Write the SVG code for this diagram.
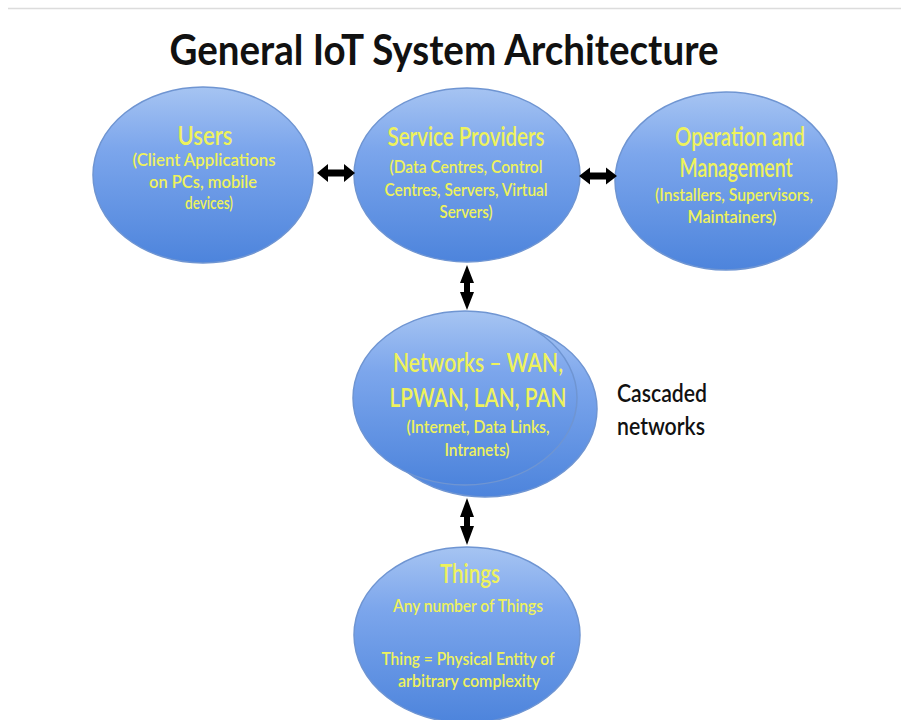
<svg xmlns="http://www.w3.org/2000/svg" width="901" height="720" viewBox="0 0 901 720">
<defs>
<linearGradient id="blue" x1="0" y1="0" x2="0" y2="1">
<stop offset="0" stop-color="#a6c4f2"/>
<stop offset="0.35" stop-color="#7ca6ec"/>
<stop offset="1" stop-color="#4d84dc"/>
</linearGradient>
<style>
.ell{fill:url(#blue);stroke:#6f95d2;stroke-width:1.5}
.hd{font-family:Lato,"Liberation Sans",sans-serif;font-size:27px;font-weight:600;fill:#eef25c;text-anchor:middle}
.sb{font-family:Lato,"Liberation Sans",sans-serif;font-size:18px;font-weight:600;fill:#eef25c;text-anchor:middle}
.blk{font-family:Lato,"Liberation Sans",sans-serif;font-size:25px;font-weight:600;fill:#111;}
.arr{fill:#000}
</style>
</defs>
<rect width="901" height="720" fill="#fff"/>
<line x1="8" y1="8.5" x2="901" y2="8.5" stroke="#dcdcdc" stroke-width="1.5"/>
<text x="444" y="65" font-family="Lato,'Liberation Sans',sans-serif" font-weight="bold" font-size="42" fill="#111" text-anchor="middle" textLength="549" lengthAdjust="spacingAndGlyphs">General IoT System Architecture</text>

<g id="users">
<ellipse class="ell" cx="203" cy="175" rx="110" ry="88"/>
<text class="hd" x="205" y="145" textLength="55" lengthAdjust="spacingAndGlyphs">Users</text>
<text class="sb" x="204" y="166" textLength="143" lengthAdjust="spacingAndGlyphs">(Client  Applications</text>
<text class="sb" x="203" y="188" textLength="108" lengthAdjust="spacingAndGlyphs">on PCs, mobile</text>
<text class="sb" x="209" y="209" textLength="48" lengthAdjust="spacingAndGlyphs">devices)</text>
</g>

<g id="service-providers">
<ellipse class="ell" cx="467" cy="175" rx="113" ry="87"/>
<text class="hd" x="466" y="146" textLength="157" lengthAdjust="spacingAndGlyphs">Service Providers</text>
<text class="sb" x="466" y="173" textLength="153" lengthAdjust="spacingAndGlyphs">(Data Centres, Control</text>
<text class="sb" x="466" y="196" textLength="163" lengthAdjust="spacingAndGlyphs">Centres, Servers, Virtual</text>
<text class="sb" x="466" y="218" textLength="53" lengthAdjust="spacingAndGlyphs">Servers)</text>
</g>

<g id="operation-management">
<ellipse class="ell" cx="726" cy="181" rx="111" ry="89"/>
<text class="hd" x="740" y="146" textLength="130" lengthAdjust="spacingAndGlyphs">Operation and</text>
<text class="hd" x="736" y="177" textLength="113" lengthAdjust="spacingAndGlyphs">Management</text>
<text class="sb" x="734" y="201" textLength="158" lengthAdjust="spacingAndGlyphs">(Installers, Supervisors,</text>
<text class="sb" x="732" y="223" textLength="89" lengthAdjust="spacingAndGlyphs">Maintainers)</text>
</g>

<g id="networks">
<ellipse class="ell" cx="485" cy="409" rx="112" ry="88"/>
<ellipse class="ell" cx="465" cy="398" rx="112" ry="87"/>
<text class="hd" x="478" y="372" textLength="170" lengthAdjust="spacingAndGlyphs">Networks  – WAN,</text>
<text class="hd" x="478" y="407" textLength="177" lengthAdjust="spacingAndGlyphs">LPWAN,  LAN, PAN</text>
<text class="sb" x="478" y="433" textLength="143" lengthAdjust="spacingAndGlyphs">(Internet, Data Links,</text>
<text class="sb" x="477" y="456" textLength="65" lengthAdjust="spacingAndGlyphs">Intranets)</text>
</g>

<g id="cascaded-label">
<text class="blk" x="617" y="402" textLength="90" lengthAdjust="spacingAndGlyphs">Cascaded</text>
<text class="blk" x="617" y="435" textLength="88" lengthAdjust="spacingAndGlyphs">networks</text>
</g>

<g id="things">
<ellipse class="ell" cx="467" cy="635" rx="113" ry="88"/>
<text class="hd" x="470" y="583" textLength="60" lengthAdjust="spacingAndGlyphs">Things</text>
<text class="sb" x="468" y="612" textLength="150" lengthAdjust="spacingAndGlyphs">Any number of Things</text>
<text class="sb" x="468" y="665" textLength="173" lengthAdjust="spacingAndGlyphs">Thing = Physical Entity of</text>
<text class="sb" x="469" y="687" textLength="142" lengthAdjust="spacingAndGlyphs">arbitrary complexity</text>
</g>

<g id="connectors">
<polygon class="arr" points="317,173 328,164 328,169.5 344,169.5 344,164 355,173 344,182 344,176.5 328,176.5 328,182"/>
<polygon class="arr" points="579,176 590,167.5 590,172.5 606,172.5 606,167.5 617,176 606,184.5 606,179.5 590,179.5 590,184.5"/>
<polygon class="arr" points="467,265 474,283 470,283 470,292 474,292 467,310 460,292 464,292 464,283 460,283"/>
<polygon class="arr" points="467,498 474,517 470,517 470,526 474,526 467,545 460,526 464,526 464,517 460,517"/>
</g>
</svg>
